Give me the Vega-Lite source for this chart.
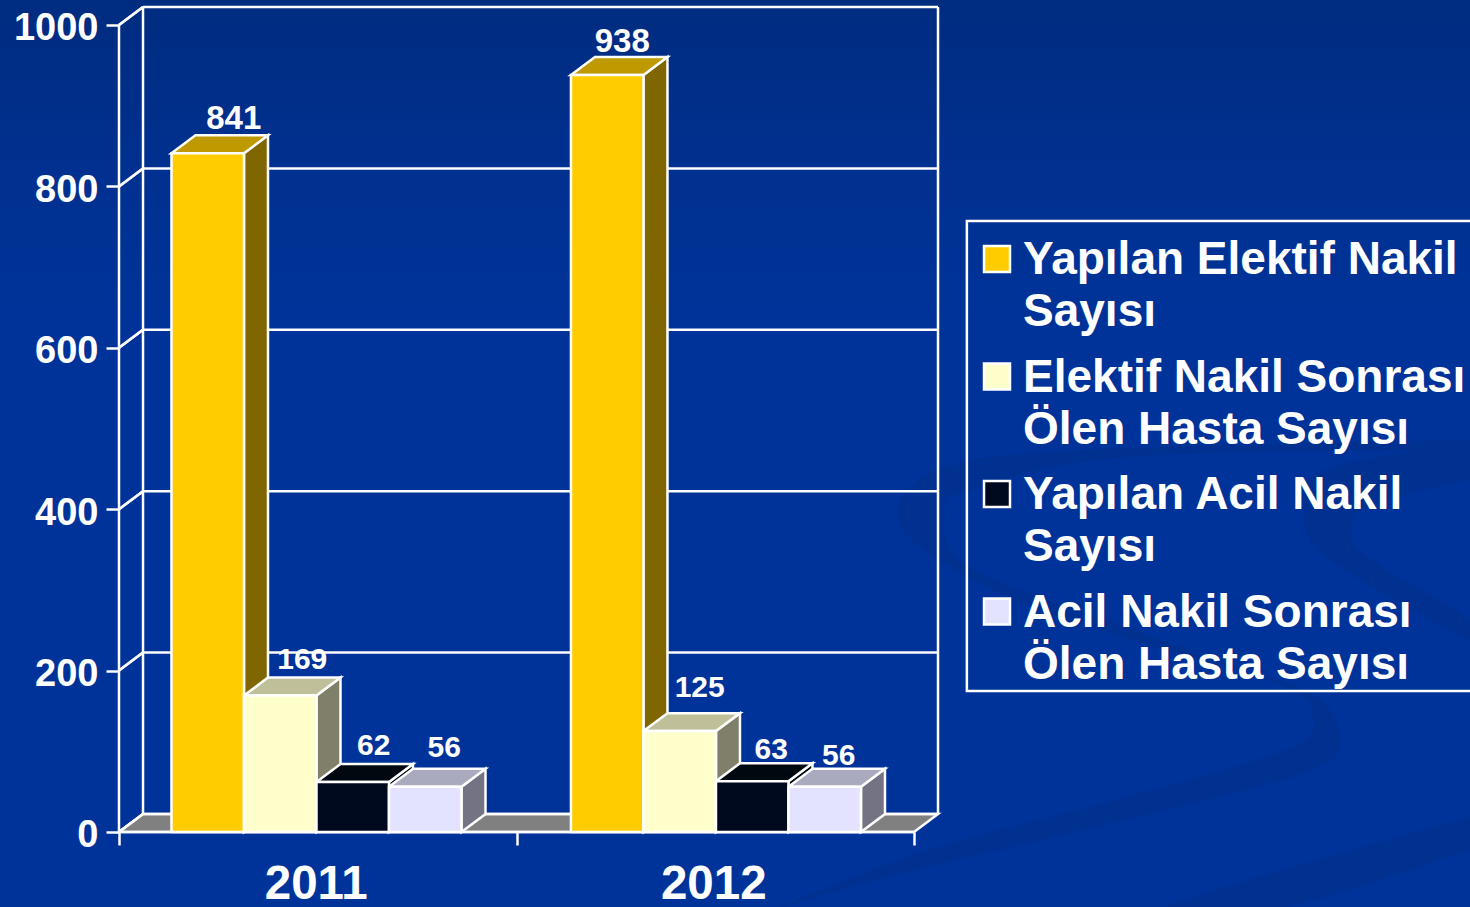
{
"$schema":"https://vega.github.io/schema/vega-lite/v6.json",
"width":1470,"height":907,"padding":0,"autosize":{"type":"none"},
"background":"#003399",
"config":{"font":"Liberation Sans","view":{"stroke":null},"style":{"guide-label":{"lineHeight":52,"dy":1}}},
"datasets":{
"bars":[
{"year":"2011","series":"Yapılan Elektif Nakil Sayısı","value":841},
{"year":"2011","series":"Elektif Nakil Sonrası Ölen Hasta Sayısı","value":169},
{"year":"2011","series":"Yapılan Acil Nakil Sayısı","value":62},
{"year":"2011","series":"Acil Nakil Sonrası Ölen Hasta Sayısı","value":56},
{"year":"2012","series":"Yapılan Elektif Nakil Sayısı","value":938},
{"year":"2012","series":"Elektif Nakil Sonrası Ölen Hasta Sayısı","value":125},
{"year":"2012","series":"Yapılan Acil Nakil Sayısı","value":63},
{"year":"2012","series":"Acil Nakil Sonrası Ölen Hasta Sayısı","value":56}
],
"ticks":[{"v":0},{"v":200},{"v":400},{"v":600},{"v":800},{"v":1000}],
"floor":[{"u":0,"lo":0,"hi":0},{"u":0.0604,"lo":0,"hi":22.3},{"u":2,"lo":0,"hi":22.3},{"u":2.0604,"lo":22.3,"hi":22.3}],
"swoosh":[
{"s":"a","o":1,"u":3.399,"w":485.7},{"s":"a","o":2,"u":2.435,"w":473.4},{"s":"a","o":3,"u":2.058,"w":448.6},{"s":"a","o":4,"u":1.967,"w":377.9},{"s":"a","o":5,"u":2.236,"w":291.2},{"s":"a","o":6,"u":2.634,"w":225.5},{"s":"a","o":7,"u":2.984,"w":176},{"s":"a","o":8,"u":3.072,"w":117.7},{"s":"a","o":9,"u":3.001,"w":76.8},{"s":"a","o":10,"u":2.634,"w":27.3},{"s":"a","o":11,"u":2.138,"w":-31},{"s":"a","o":12,"u":1.839,"w":-68.2},{"s":"a","o":13,"u":1.663,"w":-92.9},{"s":"a","o":14,"u":2.038,"w":-22.3},{"s":"a","o":15,"u":2.536,"w":43.4},{"s":"a","o":16,"u":2.953,"w":105.3},{"s":"a","o":17,"u":3.001,"w":147.5},{"s":"a","o":18,"u":2.933,"w":179.7},{"s":"a","o":19,"u":2.536,"w":254},{"s":"a","o":20,"u":2.138,"w":328.4},{"s":"a","o":21,"u":2.078,"w":395.3},{"s":"a","o":22,"u":2.138,"w":423.8},{"s":"a","o":23,"u":2.536,"w":464.7},{"s":"a","o":24,"u":3.399,"w":473.4},
{"s":"b","o":1,"u":3.399,"w":18.6},{"s":"b","o":2,"u":2.634,"w":-92.9},{"s":"b","o":3,"u":2.933,"w":-92.9},{"s":"b","o":4,"u":3.399,"w":-22.3},
{"s":"c","o":1,"u":3.399,"w":482},{"s":"c","o":2,"u":3.031,"w":448.6},{"s":"c","o":3,"u":2.981,"w":395.3},{"s":"c","o":4,"u":3.047,"w":337},{"s":"c","o":5,"u":3.399,"w":237.9},{"s":"c","o":6,"u":3.399,"w":262.7},{"s":"c","o":7,"u":3.152,"w":337},{"s":"c","o":8,"u":3.102,"w":370.5},{"s":"c","o":9,"u":3.147,"w":405.2},{"s":"c","o":10,"u":3.399,"w":436.2}
]
},
"data":{"name":"bars"},
"transform":[
{"calculate":"indexof(['Yapılan Elektif Nakil Sayısı','Elektif Nakil Sonrası Ölen Hasta Sayısı','Yapılan Acil Nakil Sayısı','Acil Nakil Sonrası Ölen Hasta Sayısı'],datum.series)","as":"i"},
{"calculate":"datum.year=='2011'?0:1","as":"c"},
{"calculate":"datum.c*1.005+0.132+datum.i*0.1824","as":"x0"},
{"calculate":"datum.x0+0.1824","as":"x1"},
{"calculate":"datum.year+datum.series","as":"key"}
],
"layer":[
{"data":{"values":[{}]},"transform":[],"mark":{"type":"rect","color":{"gradient":"linear","x1":0,"y1":0,"x2":0,"y2":1,"stops":[{"offset":0,"color":"#002c80"},{"offset":0.2,"color":"#003191"},{"offset":0.35,"color":"#003399"},{"offset":1,"color":"#003399"}]}},"encoding":{}},
{"data":{"name":"ticks"},"transform":[{"calculate":"datum.v+22.3","as":"g"}],"mark":{"type":"rule","color":"white","strokeWidth":2.5},
"encoding":{
"x":{"datum":0,"type":"quantitative","title":null,"scale":{"domain":[-0.29937,3.39874],"nice":false,"zero":false},
"axis":{"values":[0,0.5,1,1.5,2],"orient":"bottom","offset":-75,"domain":false,"grid":false,"zindex":1,"title":null,"tickColor":"white","tickWidth":2.5,"tickSize":13,"tickOpacity":{"condition":{"test":"datum.value % 1 !== 0","value":0},"value":1},"labelExpr":"datum.value==0.5?'2011':datum.value==1.5?'2012':''","labelOverlap":false,"labelFlush":false,"labelColor":"white","labelFont":"Liberation Sans","labelFontWeight":"bold","labelFontSize":47.5,"labelPadding":14,"labelOffset":-2}},
"y":{"field":"v","type":"quantitative","title":null,"scale":{"domain":[-92.94,1030.97],"nice":false,"zero":false},
"axis":{"values":[0,200,400,600,800,1000],"format":"d","orient":"left","offset":-119,"domain":false,"grid":false,"zindex":1,"title":null,"tickColor":"white","tickWidth":2.5,"tickSize":13,"labelColor":"white","labelFont":"Liberation Sans","labelFontWeight":"bold","labelFontSize":38,"labelPadding":8,"labelOffset":3,"labelOverlap":false,"labelFlush":false}},
"x2":{"datum":0.0604},
"y2":{"field":"g"}
}},
{"data":{"name":"swoosh"},"transform":[],"mark":{"type":"line","filled":true,"interpolate":"cardinal","fill":"#003090","stroke":null,"strokeWidth":0},
"encoding":{"x":{"field":"u","type":"quantitative","axis":null},"y":{"field":"w","type":"quantitative","axis":null},"detail":{"field":"s"},"order":{"field":"o"}}},
{"data":{"values":[{"l":2.133,"r":3.5,"t":757.1,"b":174.7}]},"transform":[],"mark":{"type":"rect","fill":null,"stroke":"white","strokeWidth":2.5},
"encoding":{"x":{"field":"l","type":"quantitative","axis":null},"x2":{"field":"r"},"y":{"field":"t","type":"quantitative","axis":null},"y2":{"field":"b"}}},
{"data":{"name":"floor"},"transform":[],"mark":{"type":"area","color":"#808080","stroke":"white","strokeWidth":2.5},
"encoding":{"x":{"field":"u","type":"quantitative","axis":null},"y":{"field":"hi","type":"quantitative","axis":null},"y2":{"field":"lo"}}},
{"data":{"name":"ticks"},"transform":[{"calculate":"datum.v+22.3","as":"g"}],"mark":{"type":"rule","color":"white","strokeWidth":2.5},
"encoding":{"x":{"datum":0.0604,"type":"quantitative","axis":null},"x2":{"datum":2.0604},"y":{"field":"g","type":"quantitative","axis":null}}},
{"data":{"name":"ticks"},"transform":[{"calculate":"datum.v+22.3","as":"g"}],"mark":{"type":"rule","color":"white","strokeWidth":2.5},
"encoding":{"x":{"datum":0,"type":"quantitative","axis":null},"x2":{"datum":0.0604},"y":{"field":"v","type":"quantitative","axis":null},"y2":{"field":"g"}}},
{"data":{"values":[{"wall":0.0604},{"wall":2.0604}]},"transform":[],"mark":{"type":"rule","color":"white","strokeWidth":2.5},
"encoding":{"x":{"field":"wall","type":"quantitative","axis":null},"y":{"datum":22.3,"type":"quantitative","axis":null},"y2":{"datum":1022.3}}},
{"data":{"values":[{}]},"transform":[],"mark":{"type":"rule","color":"white","strokeWidth":2.5},
"encoding":{"x":{"datum":0,"type":"quantitative","axis":null},"y":{"datum":0,"type":"quantitative","axis":null},"y2":{"datum":1000}}},
{"data":{"values":[{}]},"transform":[],"mark":{"type":"rule","color":"white","strokeWidth":2.5},
"encoding":{"x":{"datum":0,"type":"quantitative","axis":null},"x2":{"datum":2},"y":{"datum":0,"type":"quantitative","axis":null}}},
{"transform":[{"calculate":"[0,1]","as":"t"},{"flatten":["t"]},{"calculate":"datum.x1+datum.t*0.0604","as":"sx"},{"calculate":"datum.value+datum.t*22.3","as":"sy"},{"calculate":"datum.t*22.3","as":"sy2"}],
"mark":{"type":"area","stroke":"white","strokeWidth":2.5},
"encoding":{"x":{"field":"sx","type":"quantitative","axis":null},"y":{"field":"sy","type":"quantitative","axis":null},"y2":{"field":"sy2"},"detail":{"field":"key"},
"color":{"field":"series","type":"nominal","legend":null,"scale":{"domain":["Yapılan Elektif Nakil Sayısı","Elektif Nakil Sonrası Ölen Hasta Sayısı","Yapılan Acil Nakil Sayısı","Acil Nakil Sonrası Ölen Hasta Sayısı"],"range":["#806600","#80806a","#000810","#737383"]}}}},
{"transform":[{"calculate":"[0,1,2,3]","as":"k"},{"flatten":["k"]},{"calculate":"datum.x0+[0,0.0604,0.1824,0.2428][datum.k]","as":"tx"},{"calculate":"datum.value+(datum.k>0?22.3:0)","as":"ty"},{"calculate":"datum.value+(datum.k>2?22.3:0)","as":"ty2"}],
"mark":{"type":"area","stroke":"white","strokeWidth":2.5},
"encoding":{"x":{"field":"tx","type":"quantitative","axis":null},"y":{"field":"ty","type":"quantitative","axis":null},"y2":{"field":"ty2"},"detail":{"field":"key"},
"color":{"field":"series","type":"nominal","legend":null,"scale":{"domain":["Yapılan Elektif Nakil Sayısı","Elektif Nakil Sonrası Ölen Hasta Sayısı","Yapılan Acil Nakil Sayısı","Acil Nakil Sonrası Ölen Hasta Sayısı"],"range":["#bf9900","#bfbf99","#000810","#aaaabf"]}}}},
{"mark":{"type":"rect","stroke":"white","strokeWidth":2.5},
"encoding":{"x":{"field":"x0","type":"quantitative","axis":null},"x2":{"field":"x1"},"y":{"field":"value","type":"quantitative","axis":null},"y2":{"datum":0},
"color":{"field":"series","type":"nominal","scale":{"domain":["Yapılan Elektif Nakil Sayısı","Elektif Nakil Sonrası Ölen Hasta Sayısı","Yapılan Acil Nakil Sayısı","Acil Nakil Sonrası Ölen Hasta Sayısı"],"range":["#ffcc00","#ffffcc","#000a1e","#e3e3ff"]},
"legend":{"title":null,"orient":"none","legendX":967,"legendY":222,"symbolType":"square","symbolSize":676,"symbolStrokeColor":"white","symbolStrokeWidth":2.5,"symbolOpacity":1,"symbolOffset":-7,"padding":14,"rowPadding":18.5,"labelOffset":3,"labelColor":"white","labelFont":"Liberation Sans","labelFontWeight":"bold","labelFontSize":46,"labelLimit":600,"labelExpr":"split(replace(replace(datum.label,'Nakil Sayısı','Nakil|Sayısı'),' Ölen','|Ölen'),'|')"}}}},
{"transform":[{"calculate":"(datum.x0+datum.x1)/2+[26,22,21,19,15,20,19,14][datum.c*4+datum.i]/397.5","as":"lx"},{"calculate":"datum.value+[34,36,36,39,33,43,31,31][datum.c*4+datum.i]/0.807","as":"ly"}],
"mark":{"type":"text","color":"white","fontWeight":"bold","font":"Liberation Sans","baseline":"middle","align":"center"},
"encoding":{"x":{"field":"lx","type":"quantitative","axis":null},"y":{"field":"ly","type":"quantitative","axis":null},"text":{"field":"value","type":"quantitative"},"size":{"condition":{"test":"datum.i==0","value":33},"value":30}}}
],
"resolve":{"scale":{"color":"independent"},"axis":{"x":"independent","y":"independent"}}
}
